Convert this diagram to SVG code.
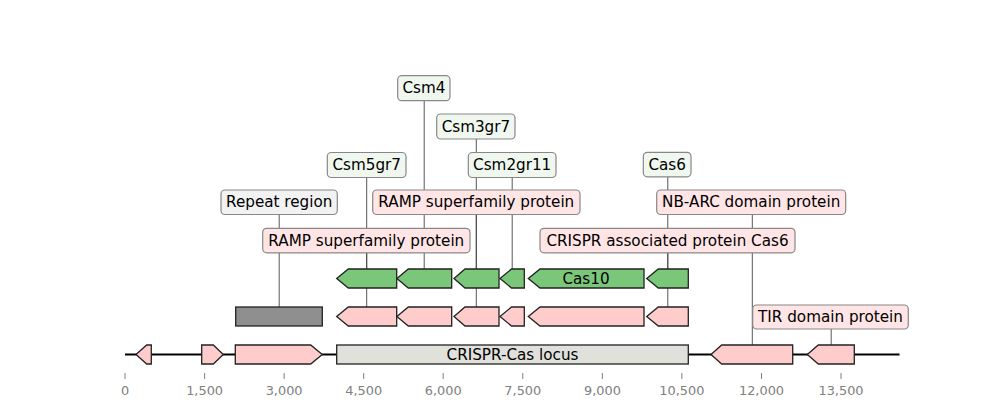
<svg xmlns="http://www.w3.org/2000/svg" width="1000" height="420" viewBox="0 0 1000 420">
<style>
text{font-family:"DejaVu Sans","Liberation Sans",sans-serif;font-size:15.2px;fill:#000}
.lbl{text-anchor:middle;dominant-baseline:central}
.tick text{font-size:12.9px;fill:#808080;text-anchor:middle}
.tick line{stroke:#808080;stroke-width:1}
.gene{stroke:#222;stroke-width:1.3;stroke-linejoin:miter}
.pink{fill:#ffcccc}
.green{fill:#7ac77a}
.box{stroke:#888;stroke-width:1.2}
.bp{fill:#ffe5e5}
.bg{fill:#eff7ee}
.bgr{fill:#f2f2f2}
.conn line{stroke:#444;stroke-width:0.9}
</style>
<rect width="1000" height="420" fill="#fff"/>
<g id="connectors" class="conn">
<line x1="424.2" y1="88" x2="424.2" y2="269"/>
<line x1="476.3" y1="126.5" x2="476.3" y2="269"/>
<line x1="366.7" y1="165" x2="366.7" y2="269"/>
<line x1="512.2" y1="165" x2="512.2" y2="269"/>
<line x1="667.8" y1="164.5" x2="667.8" y2="269"/>
<line x1="279.2" y1="202" x2="279.2" y2="307"/>
<line x1="476.3" y1="202" x2="476.3" y2="307"/>
<line x1="366.7" y1="240" x2="366.7" y2="307"/>
<line x1="667.8" y1="240" x2="667.8" y2="307"/>
<line x1="752.3" y1="202" x2="752.3" y2="345"/>
<line x1="831.2" y1="317" x2="831.2" y2="345"/>
</g>
<g id="axis" class="tick">
<line x1="125" y1="373" x2="125" y2="379"/><text x="125" y="395">0</text>
<line x1="204.6" y1="373" x2="204.6" y2="379"/><text x="204.6" y="395">1,500</text>
<line x1="284.1" y1="373" x2="284.1" y2="379"/><text x="284.1" y="395">3,000</text>
<line x1="363.7" y1="373" x2="363.7" y2="379"/><text x="363.7" y="395">4,500</text>
<line x1="443.2" y1="373" x2="443.2" y2="379"/><text x="443.2" y="395">6,000</text>
<line x1="522.8" y1="373" x2="522.8" y2="379"/><text x="522.8" y="395">7,500</text>
<line x1="602.4" y1="373" x2="602.4" y2="379"/><text x="602.4" y="395">9,000</text>
<line x1="681.9" y1="373" x2="681.9" y2="379"/><text x="681.9" y="395">10,500</text>
<line x1="761.5" y1="373" x2="761.5" y2="379"/><text x="761.5" y="395">12,000</text>
<line x1="841" y1="373" x2="841" y2="379"/><text x="841" y="395">13,500</text>
</g>
<g id="backbone"><line x1="125" y1="354.5" x2="899.5" y2="354.5" stroke="#000" stroke-width="2"/></g>
<g id="main-row">
<polygon id="m1" class="gene pink" points="136,354.5 146.7,345 151.3,345 151.3,364 146.7,364"/>
<polygon id="m2" class="gene pink" points="201.7,345 213.3,345 223.3,354.5 213.3,364 201.7,364"/>
<polygon id="m3" class="gene pink" points="235.3,345 310.7,345 322.3,354.5 310.7,364 235.3,364"/>
<g id="locus"><rect class="gene" x="336.7" y="345" width="351.6" height="19" fill="#e1e1db"/><text class="lbl" x="512.5" y="354.5">CRISPR-Cas locus</text></g>
<polygon id="m4" class="gene pink" points="711,354.5 721.7,345 792.7,345 792.7,364 721.7,364"/>
<polygon id="m5" class="gene pink" points="807.3,354.5 818.3,345 854.3,345 854.3,364 818.3,364"/>
</g>
<g id="pink-row">
<rect id="repeat" class="gene" x="235.7" y="307" width="86.6" height="19" fill="#8f8f8f"/>
<polygon id="p1" class="gene pink" points="336.7,316.5 348.3,307 396.7,307 396.7,326 348.3,326"/>
<polygon id="p2" class="gene pink" points="396.9,316.5 408.3,307 451.7,307 451.7,326 408.3,326"/>
<polygon id="p3" class="gene pink" points="454,316.5 465,307 499,307 499,326 465,326"/>
<polygon id="p4" class="gene pink" points="500,316.5 511.5,307 524.3,307 524.3,326 511.5,326"/>
<polygon id="p5" class="gene pink" points="528.3,316.5 540,307 644,307 644,326 540,326"/>
<polygon id="p6" class="gene pink" points="646.7,316.5 658.3,307 688.3,307 688.3,326 658.3,326"/>
</g>
<g id="green-row">
<polygon id="g1" class="gene green" points="336.7,278.5 348.3,269 396.7,269 396.7,288 348.3,288"/>
<polygon id="g2" class="gene green" points="396.9,278.5 408.3,269 451.7,269 451.7,288 408.3,288"/>
<polygon id="g3" class="gene green" points="454,278.5 465,269 499,269 499,288 465,288"/>
<polygon id="g4" class="gene green" points="500,278.5 511.5,269 524.3,269 524.3,288 511.5,288"/>
<g id="g5"><polygon class="gene green" points="528.3,278.5 540,269 644,269 644,288 540,288"/><text class="lbl" x="586" y="278.5">Cas10</text></g>
<polygon id="g6" class="gene green" points="646.7,278.5 658.3,269 688.3,269 688.3,288 658.3,288"/>
</g>
<g id="label-csm4"><rect class="box bg" x="397.7" y="75.7" width="52.3" height="25" rx="4"/><text class="lbl" x="423.9" y="88.2">Csm4</text></g>
<g id="label-csm3gr7"><rect class="box bg" x="436.7" y="114" width="78.3" height="25" rx="4"/><text class="lbl" x="475.9" y="126.5">Csm3gr7</text></g>
<g id="label-csm5gr7"><rect class="box bg" x="327.3" y="152.5" width="78.7" height="25" rx="4"/><text class="lbl" x="366.7" y="165">Csm5gr7</text></g>
<g id="label-csm2gr11"><rect class="box bg" x="468.3" y="152.5" width="87.7" height="25" rx="4"/><text class="lbl" x="512.2" y="165">Csm2gr11</text></g>
<g id="label-cas6"><rect class="box bg" x="643.3" y="152.3" width="47.7" height="24.5" rx="4"/><text class="lbl" x="667.2" y="164.6">Cas6</text></g>
<g id="label-repeat"><rect class="box bgr" x="221" y="190" width="116.3" height="24.5" rx="4"/><text class="lbl" x="279.2" y="202.2">Repeat region</text></g>
<g id="label-ramp-upper"><rect class="box bp" x="372.7" y="190" width="207.3" height="24.5" rx="4"/><text class="lbl" x="476.3" y="202.2">RAMP superfamily protein</text></g>
<g id="label-nbarc"><rect class="box bp" x="656.7" y="190" width="189" height="24.5" rx="4"/><text class="lbl" x="751.2" y="202.2">NB-ARC domain protein</text></g>
<g id="label-ramp-lower"><rect class="box bp" x="262.7" y="228.3" width="207.3" height="24.5" rx="4"/><text class="lbl" x="366.3" y="240.5">RAMP superfamily protein</text></g>
<g id="label-cas6-protein"><rect class="box bp" x="540" y="228.3" width="255" height="24.5" rx="4"/><text class="lbl" x="667.5" y="240.5">CRISPR associated protein Cas6</text></g>
<g id="label-tir"><rect class="box bp" x="752.7" y="305" width="155.6" height="24" rx="4"/><text class="lbl" x="830.5" y="317">TIR domain protein</text></g>
</svg>
